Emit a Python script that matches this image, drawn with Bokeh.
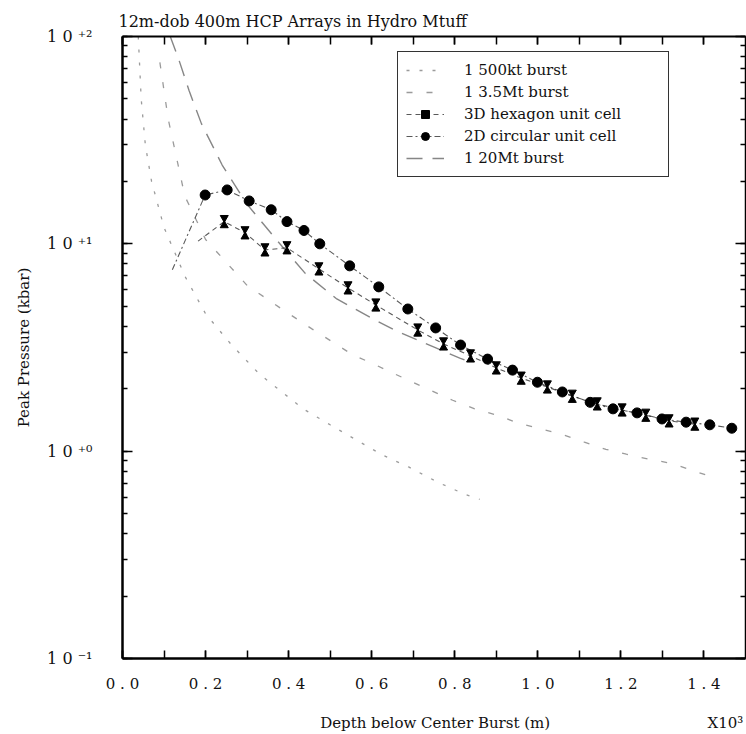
import math
from bokeh.plotting import figure
from bokeh.models import (LogAxis, LinearAxis, SingleIntervalTicker, LogTicker,
                          CustomJSTickFormatter, Legend, LegendItem, Range1d,
                          ColumnDataSource, CustomLabelingPolicy)
from bokeh.embed import file_html
from bokeh.resources import INLINE

# ---------------- data ----------------
title_text = "12m-dob 400m HCP Arrays in Hydro Mtuff"
x_label = "Depth below Center Burst (m)"
y_label = "Peak Pressure (kbar)"
x_mult = "X10³"

# 2D circular unit cell (depth in 10^3 m, pressure in kbar)
circ_x = [0.199, 0.252, 0.305, 0.358, 0.396, 0.437, 0.475, 0.547, 0.617, 0.687,
          0.754, 0.814, 0.879, 0.939, 0.999, 1.059, 1.126, 1.181, 1.239, 1.299,
          1.357, 1.414, 1.467]
circ_y = [17.2, 18.2, 16.1, 14.6, 12.8, 11.6, 10.0, 7.83, 6.20, 4.85,
          3.93, 3.25, 2.78, 2.46, 2.15, 1.93, 1.72, 1.60, 1.53, 1.43,
          1.38, 1.34, 1.29]
circ_lead_x = [0.12]
circ_lead_y = [7.5]

# 3D hexagon unit cell
hex_x = [0.245, 0.295, 0.343, 0.396, 0.473, 0.543, 0.610, 0.711, 0.773, 0.838,
         0.900, 0.960, 1.023, 1.083, 1.143, 1.203, 1.260, 1.316, 1.378]
hex_y = [12.8, 11.3, 9.35, 9.57, 7.57, 6.13, 5.07, 3.84, 3.29, 2.88,
         2.52, 2.25, 2.04, 1.84, 1.69, 1.58, 1.49, 1.40, 1.35]
hex_lead_x = [0.182]
hex_lead_y = [10.3]

# single bursts
b20_x = [0.115, 0.135, 0.16, 0.19, 0.24, 0.30, 0.37, 0.44, 0.516, 0.555, 0.612,
         0.655, 0.711, 0.756, 0.812, 0.843]
b20_y = [100, 78, 55, 38, 24, 15.5, 10.5, 7.2, 5.42, 4.91, 4.25,
         3.84, 3.43, 3.14, 2.81, 2.66]

b35_x = [0.09, 0.11, 0.15, 0.20, 0.30, 0.38, 0.456, 0.555, 0.600, 0.651, 0.699,
         0.795, 0.848, 0.903, 0.951, 1.008, 1.056, 1.112, 1.164, 1.213, 1.268,
         1.320, 1.429]
b35_y = [75, 40, 17, 10.5, 6.3, 4.9, 3.89, 2.91, 2.66, 2.38, 2.15,
         1.76, 1.60, 1.49, 1.37, 1.28, 1.21, 1.105, 1.02, 0.967, 0.915,
         0.875, 0.74]

b500_x = [0.038, 0.045, 0.055, 0.07, 0.10, 0.15, 0.20, 0.26, 0.33, 0.435, 0.50,
          0.567, 0.627, 0.69, 0.759, 0.824, 0.86]
b500_y = [100, 50, 30, 20, 12, 7.0, 4.6, 3.3, 2.35, 1.60, 1.34,
          1.12, 0.956, 0.837, 0.708, 0.62, 0.586]

legend_labels = ["1 500kt burst", "1 3.5Mt burst", "3D hexagon unit cell",
                 "2D circular unit cell", "1 20Mt burst"]

# ---------------- figure ----------------
FONT = "DejaVu Serif"
TXT = "#111111"
p = figure(width=746, height=734, x_range=Range1d(0, 1.5), y_range=Range1d(0.1, 100),
           y_axis_type="log", output_backend="svg", toolbar_location=None,
           min_border_left=122, min_border_right=1, min_border_top=36,
           min_border_bottom=76, title=title_text)
p.grid.visible = False
p.outline_line_color = None
p.background_fill_color = "white"
p.border_fill_color = "white"
p.title.text_font = FONT
p.title.text_font_size = "16px"
p.title.text_font_style = "normal"
p.title.text_color = TXT
p.title.standoff = 12
p.title.offset = -4

def hide_labels():
    return CustomLabelingPolicy(code="""
for (const i of Array.from(indices)) { indices.unset(i) }
return indices
""")

# bottom axis; the X10^3 multiplier sits at the right end of the axis-label row
NB = "\u00a0"
xa = p.xaxis[0]
xa.ticker = SingleIntervalTicker(interval=0.2, num_minor_ticks=2)
xa.formatter = CustomJSTickFormatter(code="return tick.toFixed(1).split('').join(' ');")
xa.major_tick_in = 8
xa.major_tick_out = 0
xa.minor_tick_in = 8
xa.minor_tick_out = 0
xa.axis_line_width = 2.5
xa.major_tick_line_width = 1.5
xa.minor_tick_line_width = 1.5
xa.major_label_standoff = 16
xa.major_label_text_font = FONT
xa.major_label_text_font_size = "15px"
xa.major_label_text_color = TXT
xa.axis_label = NB * 41 + x_label + NB * 33 + x_mult
xa.axis_label_text_font = FONT
xa.axis_label_text_font_size = "15px"
xa.axis_label_text_font_style = "normal"
xa.axis_label_text_color = TXT
xa.axis_label_standoff = 18

# left axis
ya = p.yaxis[0]
ya.ticker = LogTicker(num_minor_ticks=10)
ya.formatter = CustomJSTickFormatter(code="""
const e = Math.round(Math.log10(tick));
const sup = {'-':'\\u207b','+':'\\u207a','0':'\\u2070','1':'\\u00b9','2':'\\u00b2','3':'\\u00b3'};
const s = (e < 0 ? '-' : '+') + Math.abs(e);
return '1 0 ' + s.split('').map(c => sup[c]).join('');
""")
ya.major_tick_in = 10
ya.major_tick_out = 0
ya.minor_tick_in = 5
ya.minor_tick_out = 0
ya.axis_line_width = 2.5
ya.major_tick_line_width = 1.5
ya.minor_tick_line_width = 1.5
ya.major_label_standoff = 30
ya.major_label_text_font = FONT
ya.major_label_text_font_size = "16px"
ya.major_label_text_color = TXT
ya.axis_label = y_label
ya.axis_label_text_font = FONT
ya.axis_label_text_font_size = "15px"
ya.axis_label_text_font_style = "normal"
ya.axis_label_text_color = TXT
ya.axis_label_standoff = 11

# top axis (ticks only)
ta = LinearAxis(ticker=SingleIntervalTicker(interval=0.2, num_minor_ticks=2),
                major_tick_in=8, major_tick_out=0, minor_tick_in=8, minor_tick_out=0,
                major_label_text_font_size="1px", major_label_text_alpha=0,
                major_label_standoff=0, major_label_policy=hide_labels(),
                axis_line_width=2, major_tick_line_width=1.5, minor_tick_line_width=1.5)
p.add_layout(ta, "above")

# right axis (ticks only)
ra = LogAxis(ticker=LogTicker(num_minor_ticks=10),
             major_tick_in=10, major_tick_out=0, minor_tick_in=5, minor_tick_out=0,
             major_label_text_font_size="1px", major_label_text_alpha=0,
             major_label_standoff=0, major_label_policy=hide_labels(),
             axis_line_width=1.5, major_tick_line_width=1.5, minor_tick_line_width=1.5)
p.add_layout(ra, "right")

# ---------------- glyphs ----------------
line_col = "#222222"
r500 = p.line(b500_x, b500_y, line_color=line_col, line_width=1.3, line_alpha=0.45,
              line_dash="3 10")
r35 = p.line(b35_x, b35_y, line_color=line_col, line_width=1.3, line_alpha=0.45,
             line_dash="6 14")
r20 = p.line(b20_x, b20_y, line_color=line_col, line_width=1.4, line_alpha=0.55,
             line_dash="16 10")

rhex_line = p.line(hex_lead_x + hex_x, hex_lead_y + hex_y, line_color=line_col,
                   line_width=1.1, line_alpha=0.75, line_dash="5 4")
rcirc_line = p.line(circ_lead_x + circ_x, circ_lead_y + circ_y, line_color=line_col,
                    line_width=1.1, line_alpha=0.75, line_dash="6 3 2 3")

# hourglass markers for hexagon series: two triangles meeting tip-to-tip
hg_size = 8
k = 10 ** (3.8 / 207.0)
hsrc = ColumnDataSource(dict(x=hex_x, yt=[v * k for v in hex_y], yb=[v / k for v in hex_y]))
p.scatter("x", "yt", source=hsrc, marker="inverted_triangle", size=hg_size,
          fill_color="black", line_color="black")
p.scatter("x", "yb", source=hsrc, marker="triangle", size=hg_size,
          fill_color="black", line_color="black")

rcirc = p.scatter(circ_x, circ_y, marker="circle", size=10, fill_color="black",
                  line_color="black")

# legend-only square marker for the hexagon entry (point lies outside the view)
rsq = p.scatter(x=[hex_x[0]], y=[1000.0], marker="square", size=8, fill_color="black",
                line_color="black")

legend = Legend(items=[
    LegendItem(label=legend_labels[0], renderers=[r500]),
    LegendItem(label=legend_labels[1], renderers=[r35]),
    LegendItem(label=legend_labels[2], renderers=[rhex_line, rsq]),
    LegendItem(label=legend_labels[3], renderers=[rcirc_line, rcirc]),
    LegendItem(label=legend_labels[4], renderers=[r20]),
], location=(275, 481))
legend.label_text_font = FONT
legend.label_text_font_size = "15px"
legend.label_text_color = TXT
legend.padding = 8
legend.spacing = 2
legend.glyph_width = 38
legend.glyph_height = 20
legend.label_height = 20
legend.label_standoff = 20
legend.label_width = 196
legend.margin = 0
legend.border_line_color = "black"
legend.border_line_width = 1.5
legend.border_line_alpha = 0.8
legend.background_fill_color = "white"
legend.background_fill_alpha = 1.0
p.add_layout(legend, "center")

open("out.html", "w").write(file_html(p, INLINE))
